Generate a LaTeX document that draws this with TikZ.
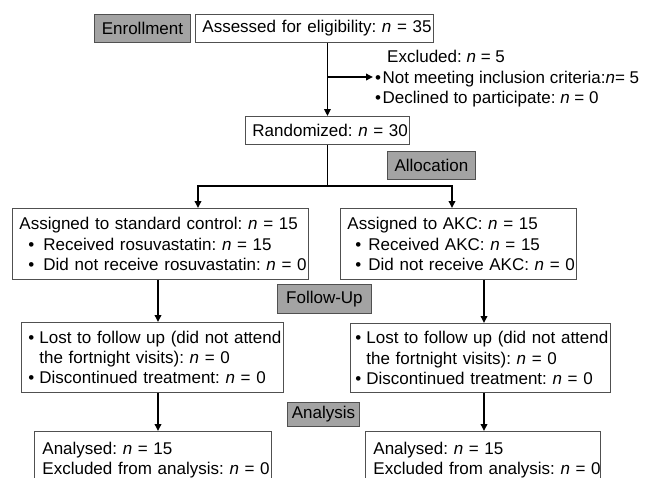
\documentclass[tikz,border=0pt]{standalone}
\usepackage{fontspec}
\setmainfont{Liberation Sans}
\usetikzlibrary{arrows.meta}
\definecolor{lblgray}{RGB}{163,163,163}
\definecolor{edgegray}{RGB}{80,80,80}
\newcommand{\bul}[2]{\mbox{\hspace*{#1}\makebox[#2][l]{•}}}
\newcommand{\nn}{{\itshape n}}
\frenchspacing
\begin{document}
\begin{tikzpicture}[x=1pt,y=-1pt,
  every node/.style={font=\fontsize{17pt}{20.4pt}\selectfont},
  box/.style={draw=edgegray, line width=0.9pt, fill=white, inner xsep=7pt, inner ysep=0pt, align=left, anchor=north west},
  lbl/.style={draw=edgegray, line width=0.9pt, fill=lblgray, inner sep=0pt, anchor=north west, align=center},
  arr/.style={line width=1.8pt, -{Triangle[length=7pt,width=6.5pt]}},
  ln/.style={line width=1.8pt}]
\clip (0,0) rectangle (650,477);
\fill[white] (0,0) rectangle (650,477);

% labels
\node[lbl, minimum width=96pt, minimum height=28pt] (enroll) at (94,14) {Enrollment};
\node[lbl, minimum width=88pt, minimum height=28pt] (alloc) at (387,151) {Allocation};
\node[lbl, minimum width=94pt, minimum height=29pt] (fu) at (277,284) {Follow-Up};
\node[lbl, minimum width=72pt, minimum height=24pt] (ana) at (287,402) {Analysis};

% boxes
\node[box, text width=224pt, minimum height=28pt, align=center] (assess) at (195,14)
  {\mbox{Assessed for eligibility: \nn{} = 35}};
\node[box, text width=150pt, minimum height=28pt, align=center] (rand) at (245,116)
  {\mbox{Randomized: \nn{} = 30}};
\node[inner xsep=2pt, inner ysep=0pt, align=left, anchor=west] (excl) at (373,79)
  {\mbox{\hspace*{12pt}Excluded: \nn{} = 5}\\
   \mbox{•\hspace{1.5pt}Not meeting inclusion criteria:\nn= 5}\\
   \mbox{•\hspace{1.5pt}Declined to participate: \nn{} = 0}};

\node[box, text width=282pt, minimum height=71pt] (lassign) at (12,208)
  {\mbox{Assigned to standard control: \nn{} = 15}\\
   \mbox{\bul{9pt}{15pt}Received rosuvastatin: \nn{} = 15}\\
   \mbox{\bul{9pt}{15pt}Did not receive rosuvastatin: \nn{} = 0}};
\node[box, text width=222pt, minimum height=71pt] (rassign) at (340,208)
  {\mbox{Assigned to AKC: \nn{} = 15}\\
   \mbox{\bul{8pt}{13pt}Received AKC: \nn{} = 15}\\
   \mbox{\bul{8pt}{13pt}Did not receive AKC: \nn{} = 0}};

\node[box, text width=248pt, minimum height=70pt] (lfu) at (21,322)
  {\mbox{\bul{0pt}{11pt}Lost to follow up (did not attend}\\
   \mbox{\hspace*{11pt}the fortnight visits): \nn{} = 0}\\
   \mbox{\bul{0pt}{11pt}Discontinued treatment: \nn{} = 0}};
\node[box, inner xsep=5pt, text width=250pt, minimum height=69pt] (rfu) at (350,323)
  {\mbox{\bul{0pt}{11pt}Lost to follow up (did not attend}\\
   \mbox{\hspace*{11pt}the fortnight visits): \nn{} = 0}\\
   \mbox{\bul{0pt}{11pt}Discontinued treatment: \nn{} = 0}};

\node[box, inner xsep=8pt, text width=221pt, minimum height=57pt] (lana) at (34,431)
  {\mbox{Analysed: \nn{} = 15}\\
   \mbox{Excluded from analysis: \nn{} = 0}};
\node[box, inner xsep=8pt, text width=219pt, minimum height=57pt] (rana) at (365,431)
  {\mbox{Analysed: \nn{} = 15}\\
   \mbox{Excluded from analysis: \nn{} = 0}};

% coordinates
\coordinate (c1) at (rand.north |- 0,77);
\coordinate (split) at (rand.south |- 0,186);
\coordinate (la) at (198,186);
\coordinate (ra) at (452,186);
\coordinate (lx) at (158,0);
\coordinate (rx) at (484,0);

% connectors
\draw[arr] (rand.north |- assess.south) -- (rand.north);
\draw[arr] (c1) -- (excl.west |- c1);
\draw[ln] (rand.south) -- (split);
\draw[arr] (split) -| (la |- lassign.north);
\draw[arr] (split) -| (ra |- rassign.north);
\draw[arr] (lassign.south -| lx) -- (lfu.north -| lx);
\draw[arr] (rassign.south -| rx) -- (rfu.north -| rx);
\draw[arr] (lfu.south -| lx) -- (lana.north -| lx);
\draw[arr] (rfu.south -| rx) -- (rana.north -| rx);
\end{tikzpicture}
\end{document}
